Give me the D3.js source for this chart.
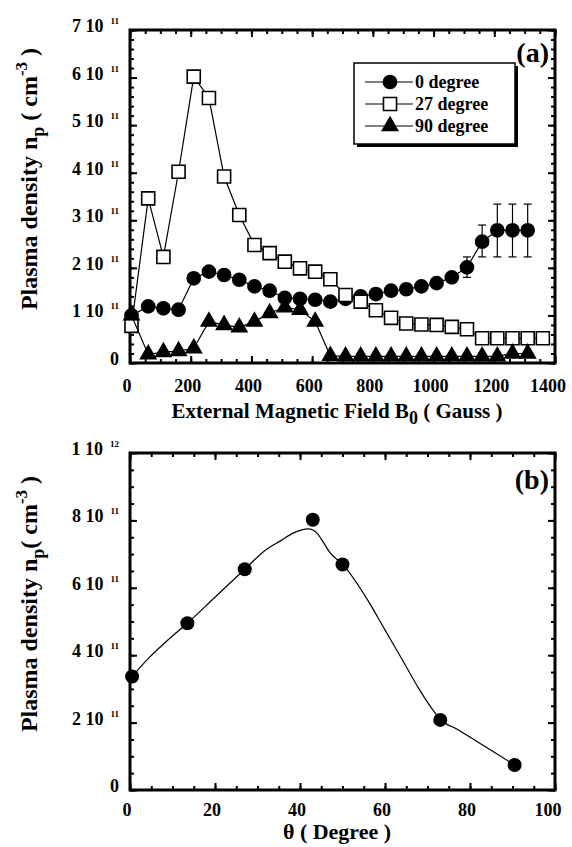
<!DOCTYPE html>
<html>
<head>
<meta charset="utf-8">
<script src="https://cdn.jsdelivr.net/npm/d3@7"></script>
<style>
body { margin: 0; background: #fff; }
text { font-family: "Liberation Serif", "Times New Roman", serif; font-weight: bold; fill: #000; }
</style>
</head>
<body>
<svg id="fig" width="572" height="847"></svg>
<script>
// ---- panel (a): density (1e11 cm^-3) vs external field (Gauss) ----
var fieldA = [5, 60, 110, 160, 210, 260, 310, 360, 410, 460, 510, 560, 610, 660, 710, 760, 810, 860, 910, 960, 1010, 1060, 1110, 1160, 1210, 1260, 1310, 1360];
var deg0 = [1.00, 1.19, 1.15, 1.12, 1.78, 1.92, 1.85, 1.75, 1.61, 1.52, 1.37, 1.35, 1.33, 1.29, 1.35, 1.40, 1.45, 1.52, 1.55, 1.61, 1.68, 1.80, 2.01, 2.55, 2.79, 2.79, 2.79];
var deg27 = [0.78, 3.46, 2.23, 4.02, 6.02, 5.57, 3.92, 3.11, 2.48, 2.31, 2.13, 1.99, 1.92, 1.76, 1.43, 1.29, 1.11, 0.95, 0.83, 0.81, 0.80, 0.76, 0.71, 0.52, 0.52, 0.52, 0.52, 0.52];
var deg90 = [1.00, 0.18, 0.23, 0.25, 0.31, 0.87, 0.80, 0.75, 0.87, 1.05, 1.17, 1.12, 0.87, 0.15, 0.14, 0.14, 0.14, 0.14, 0.14, 0.14, 0.14, 0.14, 0.14, 0.14, 0.14, 0.20, 0.20];
var errField = [1110, 1160, 1210, 1260, 1310];
var errLow = [1.80, 2.23, 2.23, 2.23, 2.23];
var errHigh = [2.23, 2.90, 3.34, 3.34, 3.34];
var seriesNames = ["0 degree", "27 degree", "90 degree"];

var xTicksA = [0, 200, 400, 600, 800, 1000, 1200, 1400];
var yTicksA = [0, 1, 2, 3, 4, 5, 6, 7];
var yMantA = ["0", "1 10", "2 10", "3 10", "4 10", "5 10", "6 10", "7 10"];
var yExpA = ["", "11", "11", "11", "11", "11", "11", "11"];

// ---- panel (b): density (1e11 cm^-3) vs angle ----
var thetaB = [0.5, 13.5, 27, 43, 50, 73, 90.5];
var densB = [3.37, 4.95, 6.55, 8.02, 6.69, 2.08, 0.74];
var fitTheta = [0.5, 4, 9, 13.5, 20, 27, 32, 35.5, 38.5, 42, 44, 45.5, 47, 50, 56, 60, 64, 68, 71, 73, 77, 81, 86, 90.5];
var fitDens = [3.37, 3.86, 4.46, 4.95, 5.72, 6.55, 7.13, 7.4, 7.63, 7.75, 7.62, 7.35, 7.05, 6.7, 5.62, 4.75, 3.88, 3.0, 2.42, 2.1, 1.8, 1.49, 1.1, 0.74];

var xTicksB = [0, 20, 40, 60, 80, 100];
var yTicksB = [0, 2, 4, 6, 8, 10];
var yMantB = ["0", "2 10", "4 10", "6 10", "8 10", "1 10"];
var yExpB = ["", "11", "11", "11", "11", "12"];

var svg = d3.select("#fig");
var left = 130, right = 555;
var topA = 30, botA = 363;
var topB = 453, botB = 790;

var xA = d3.scaleLinear().domain([0, 1400]).range([left, right]);
var yA = d3.scaleLinear().domain([0, 7]).range([botA, topA]);
var xB = d3.scaleLinear().domain([0, 100]).range([left, right]);
var yB = d3.scaleLinear().domain([0, 10]).range([botB, topB]);

// inward ticks on all four sides
function frameTicks(x, y, x0, x1, y0, y1, xMajor, xMinor, yMajor, yMinor) {
    var g = svg.append("g");
    [[d3.axisBottom, y1, -7, xMajor], [d3.axisBottom, y1, -4, xMinor],
     [d3.axisTop, y0, -7, xMajor], [d3.axisTop, y0, -4, xMinor]].forEach(a => {
        g.append("g")
            .attr("transform", `translate(0,${a[1]})`)
            .call(a[0](x).tickValues(a[3]).tickSize(a[2]).tickFormat(""));
    });
    [[d3.axisLeft, x0, -7, yMajor], [d3.axisLeft, x0, -4, yMinor],
     [d3.axisRight, x1, -7, yMajor], [d3.axisRight, x1, -4, yMinor]].forEach(a => {
        g.append("g")
            .attr("transform", `translate(${a[1]},0)`)
            .call(a[0](y).tickValues(a[3]).tickSize(a[2]).tickFormat(""));
    });
    g.selectAll(".domain").remove();
    g.selectAll(".tick line").attr("stroke", "#000").attr("stroke-width", 2);
    svg.append("rect")
        .attr("x", x0).attr("y", y0)
        .attr("width", x1 - x0).attr("height", y1 - y0)
        .attr("fill", "none").attr("stroke", "#000").attr("stroke-width", 3);
}

frameTicks(xA, yA, left, right, topA, botA,
    xTicksA, d3.range(0, 1401, 50), yTicksA, d3.range(0, 7.01, 0.2));
frameTicks(xB, yB, left, right, topB, botB,
    xTicksB, d3.range(0, 101, 5), yTicksB, d3.range(0, 10.01, 0.5));

// y tick labels "6 10^11"
function yLabels(ticks, mant, exp, y) {
    var t = svg.append("g").selectAll("text")
        .data(ticks)
        .enter()
        .append("text")
        .attr("x", 119)
        .attr("y", d => y(d) + 2)
        .attr("text-anchor", "end")
        .style("font-size", "18px");
    t.each(function (d, i) {
        var s = d3.select(this);
        s.append("tspan").text(mant[i]);
        if (exp[i]) {
            s.append("tspan").attr("dx", 7).attr("dy", -8)
                .style("font-size", "9px").text(exp[i]);
        }
    });
}
yLabels(yTicksA, yMantA, yExpA, yA);
yLabels(yTicksB, yMantB, yExpB, yB);

function xLabels(ticks, x, yPos) {
    svg.append("g").selectAll("text")
        .data(ticks)
        .enter()
        .append("text")
        .attr("x", (d, i) => x(d) - (i === ticks.length - 1 ? 7 : 3))
        .attr("y", yPos)
        .attr("text-anchor", "middle")
        .style("font-size", "18px")
        .text(d => d);
}
xLabels(xTicksA, xA, 392);
xLabels(xTicksB, xB, 816);

// axis titles
function yTitle(cx, cy, gap) {
    var t = svg.append("text")
        .attr("transform", `translate(${cx},${cy}) rotate(-90)`)
        .attr("text-anchor", "middle")
        .style("font-size", "24px");
    t.append("tspan").text("Plasma density n");
    t.append("tspan").attr("dy", 7).style("font-size", "18px").text("p");
    t.append("tspan").attr("dy", -7).text(gap + "( cm");
    t.append("tspan").attr("dy", -10).style("font-size", "17px").text("-3");
    t.append("tspan").attr("dy", 10).text(" )");
}
yTitle(37, 179, " ");
yTitle(37, 604, "");

var xt = svg.append("text")
    .attr("x", 337).attr("y", 418)
    .attr("text-anchor", "middle")
    .style("font-size", "21px");
xt.append("tspan").text("External Magnetic Field B");
xt.append("tspan").attr("dy", 6).style("font-size", "18px").text("0");
xt.append("tspan").attr("dy", -6).text(" ( Gauss )");

svg.append("text")
    .attr("x", 337).attr("y", 839)
    .attr("text-anchor", "middle")
    .style("font-size", "22px")
    .text("\u03b8  ( Degree )");

svg.append("text").attr("x", 549).attr("y", 62).attr("text-anchor", "end")
    .style("font-size", "28px").text("(a)");
svg.append("text").attr("x", 549).attr("y", 489).attr("text-anchor", "end")
    .style("font-size", "28px").text("(b)");

// ---- panel (a) marks ----
var symbols = [d3.symbol().type(d3.symbolCircle).size(135),
               d3.symbol().type(d3.symbolSquare).size(170),
               d3.symbol().type(d3.symbolTriangle).size(100)];
var fills = ["#000", "#fff", "#000"];

// error bars on the 0 degree series
var eb = svg.append("g").attr("stroke", "#000").attr("stroke-width", 1.2);
errField.forEach((f, i) => {
    eb.append("line").attr("x1", xA(f)).attr("x2", xA(f))
        .attr("y1", yA(errLow[i])).attr("y2", yA(errHigh[i]));
    [errLow[i], errHigh[i]].forEach(v => {
        eb.append("line").attr("x1", xA(f) - 4).attr("x2", xA(f) + 4)
            .attr("y1", yA(v)).attr("y2", yA(v));
    });
});

var lineA = d3.line().x(d => xA(d[0])).y(d => yA(d[1]));
[deg0, deg27, deg90].forEach((vals, s) => {
    var pts = vals.map((v, i) => [fieldA[i], v]);
    svg.append("path")
        .attr("d", lineA(pts))
        .attr("fill", "none").attr("stroke", "#000").attr("stroke-width", 1.2);
    svg.append("g").selectAll("path")
        .data(pts)
        .enter()
        .append("path")
        .attr("transform", d => `translate(${xA(d[0])},${yA(d[1])})`)
        .attr("d", symbols[s])
        .attr("fill", fills[s])
        .attr("stroke", "#000")
        .attr("stroke-width", 1.6);
});

// legend
var lg = svg.append("g");
lg.append("rect").attr("x", 357).attr("y", 66).attr("width", 161).attr("height", 81).attr("fill", "#000");
lg.append("rect").attr("x", 354).attr("y", 63).attr("width", 161).attr("height", 81)
    .attr("fill", "#fff").attr("stroke", "#000").attr("stroke-width", 1.5);
seriesNames.forEach((name, s) => {
    var ly = 82 + s * 22;
    lg.append("line").attr("x1", 365).attr("x2", 413).attr("y1", ly).attr("y2", ly)
        .attr("stroke", "#000").attr("stroke-width", 1.2);
    lg.append("path").attr("transform", `translate(390,${ly})`)
        .attr("d", symbols[s]).attr("fill", fills[s])
        .attr("stroke", "#000").attr("stroke-width", 1.6);
    lg.append("text").attr("x", 415).attr("y", ly + 6)
        .style("font-size", "18px").text(name);
});

// ---- panel (b) marks ----
var lineB = d3.line().curve(d3.curveMonotoneX).x(d => xB(d[0])).y(d => yB(d[1]));
svg.append("path")
    .attr("d", lineB(fitTheta.map((t, i) => [t, fitDens[i]])))
    .attr("fill", "none").attr("stroke", "#000").attr("stroke-width", 1.2);
svg.append("g").selectAll("circle")
    .data(thetaB)
    .enter()
    .append("circle")
    .attr("cx", d => xB(d))
    .attr("cy", (d, i) => yB(densB[i]))
    .attr("r", 7)
    .attr("fill", "#000");
</script>
</body>
</html>
